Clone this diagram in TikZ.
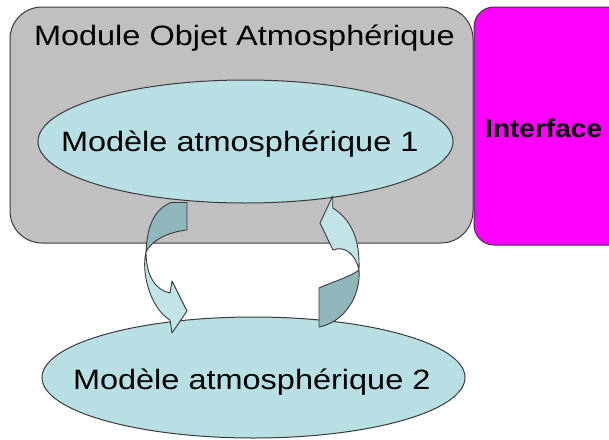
\documentclass[tikz,border=0pt]{standalone}
\usepackage{fontspec}
\setmainfont{Liberation Sans}
\newfontfamily\widefont[FakeStretch=1.16]{Liberation Sans}
\newfontfamily\ifacefont[FakeStretch=1.1]{Liberation Sans}
\usetikzlibrary{shapes.geometric}
\definecolor{panelgray}{RGB}{192,192,192}
\definecolor{ellcyan}{RGB}{184,223,228}
\definecolor{arrlight}{RGB}{194,228,232}
\definecolor{arrdark}{RGB}{143,182,187}
\definecolor{edgecol}{RGB}{58,58,58}
\definecolor{ifacemag}{RGB}{255,0,255}
\begin{document}
\begin{tikzpicture}[x=1pt,y=-1pt,
  panel/.style={draw=edgecol,line width=1pt,fill=panelgray,rounded corners=32pt,inner sep=0pt,outer sep=0pt},
  ifacebox/.style={draw=edgecol,line width=1pt,fill=ifacemag,rounded corners=20pt,inner sep=0pt,outer sep=0pt},
  ell/.style={ellipse,draw=edgecol,line width=1pt,fill=ellcyan,inner sep=0pt,outer sep=0pt},
  txt/.style={inner sep=0pt,outer sep=0pt,font=\widefont\fontsize{28}{30}\selectfont,text=black},
  arrowlight/.style={draw=edgecol,line width=0.9pt,fill=arrlight,line join=round},
  arrowdark/.style={draw=edgecol,line width=0.9pt,fill=arrdark,line join=round}]
\useasboundingbox (0,0) rectangle (609,439);
\clip (0,0) rectangle (609,439);
\fill[white] (0,0) rectangle (609,439);
% boxes
\node[panel,minimum width=463pt,minimum height=236pt] (module) at (241.5,125) {};
\node[ifacebox,minimum width=170pt,minimum height=238pt] (iface) at (559,126) {};
\node[inner sep=0pt,anchor=base west,font=\ifacefont\bfseries\fontsize{25.5}{28}\selectfont] (ifacetxt) at (485,137) {Interface};
\node[txt,anchor=base west] (title) at (34,45) {Module Objet Atmosphérique};
% ellipses
\node[ell,minimum width=415pt,minimum height=123pt] (m1) at (245.5,141.5) {};
\node[ell,minimum width=423pt,minimum height=121pt] (m2) at (253.5,377.5) {};
\node[txt,anchor=base west] (t1) at (61,151) {Modèle atmosphérique 1};
\node[txt,anchor=base west] (t2) at (73,389) {Modèle atmosphérique 2};
% left curved arrow (m1 -> m2)
\path[arrowdark] (171,202.5) -- (187,202.5) -- (187,230)
  .. controls (168,232) and (152,240) .. (146,252)
  .. controls (147,228) and (153,210) .. (171,202.5) -- cycle;
\path[arrowlight] (146,252)
  .. controls (141,272) and (150,308) .. (170,320)
  -- (172,333) -- (187,311) -- (172,281) -- (170,293)
  .. controls (155,290) and (146,275) .. (146,252) -- cycle;
% right curved arrow (m2 -> m1)
\path[arrowdark] (319,288)
  .. controls (332,282) and (350,277) .. (359,270)
  .. controls (361,295) and (345,322) .. (319,327) -- cycle;
\path[arrowlight] (332.7,196) -- (332.7,208)
  .. controls (352,220) and (360,240) .. (359,270)
  .. controls (356,255) and (345,245) .. (333,250)
  -- (320,223) -- cycle;
\end{tikzpicture}
\end{document}
